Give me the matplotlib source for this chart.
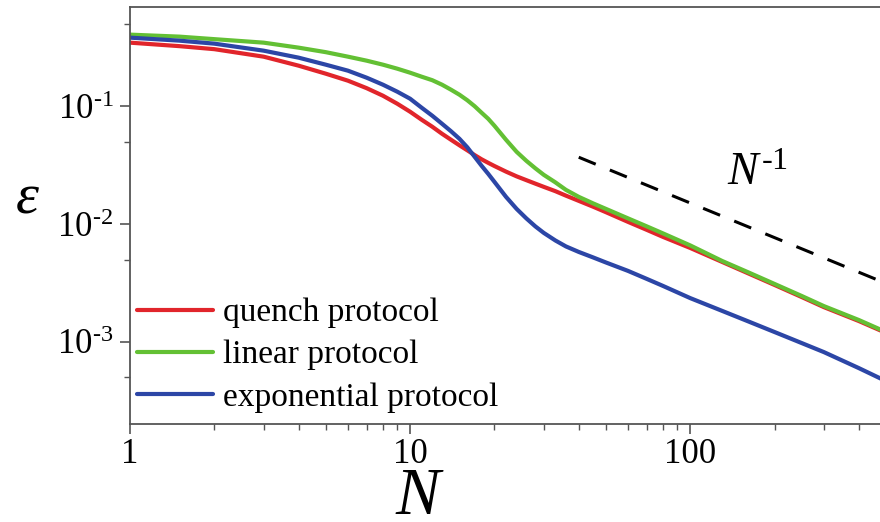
import matplotlib
matplotlib.use("Agg")
import matplotlib.pyplot as plt
from matplotlib.ticker import LogLocator, NullFormatter, FixedLocator

plt.rcParams['font.family'] = ['Liberation Serif', 'DejaVu Serif']
plt.rcParams['mathtext.fontset'] = 'custom'
plt.rcParams['mathtext.rm'] = 'Liberation Serif'
plt.rcParams['mathtext.it'] = 'Liberation Serif:italic'

# number of steps N
N = [1, 1.5, 2, 3, 4, 5, 6, 7, 8, 9, 10, 11, 12, 13, 14, 15, 16, 17, 18, 19,
     20, 22, 24, 26, 28, 30, 33, 36, 40, 45, 50, 60, 70, 80, 100, 130, 160,
     200, 250, 300, 400, 500]

# error epsilon for each protocol
quench = [0.3484, 0.3254, 0.3067, 0.2648, 0.2220, 0.1898, 0.1655, 0.1429,
          0.1233, 0.1054, 0.09015, 0.07702, 0.06721, 0.05856, 0.05208,
          0.04675, 0.04238, 0.03859, 0.03553, 0.03317, 0.03116, 0.02792,
          0.02546, 0.02363, 0.02207, 0.02073, 0.01905, 0.01745, 0.01576,
          0.01406, 0.01263, 0.01044, 0.00893, 0.00778, 0.00627, 0.00477,
          0.00384, 0.00304, 0.00240, 0.00197, 0.00150, 0.00119]
linear = [0.4076, 0.3920, 0.3731, 0.3484, 0.3159, 0.2892, 0.2648, 0.2448,
          0.2264, 0.2093, 0.1935, 0.1789, 0.1671, 0.1530, 0.1387, 0.1258,
          0.1129, 0.1004, 0.08837, 0.07855, 0.06853, 0.05208, 0.04115,
          0.03450, 0.02979, 0.02623, 0.02264, 0.01954, 0.01704, 0.01500,
          0.01347, 0.01118, 0.00956, 0.00833, 0.00659, 0.00486, 0.00392,
          0.00310, 0.00245, 0.00201, 0.00153, 0.00121]
exponential = [0.3843, 0.3624, 0.3417, 0.2978, 0.2597, 0.2264, 0.2013,
               0.1754, 0.1530, 0.1334, 0.1163, 0.09748, 0.08335, 0.07125,
               0.06151, 0.05311, 0.04495, 0.03731, 0.03129, 0.02675, 0.02286,
               0.01704, 0.01347, 0.01118, 0.00956, 0.00842, 0.00726, 0.00646,
               0.00580, 0.00521, 0.00472, 0.00400, 0.00342, 0.00298, 0.00235,
               0.00183, 0.00150, 0.00121, 0.000975, 0.000817, 0.000597,
               0.000463]

# N^-1 guide line
ref_N = [40, 460]
ref_eps = [0.037, 0.0034]

labels = ['quench protocol', 'linear protocol', 'exponential protocol']
colors = ['#e1252b', '#63c034', '#2c46a6']

fig = plt.figure(figsize=(8.8, 5.22), dpi=100)
ax = fig.add_axes([130 / 880, 1 - 424 / 522, 756 / 880, 417 / 522])

for y, lab, c in zip([quench, linear, exponential], labels, colors):
    ax.plot(N, y, color=c, lw=3.0, label=lab, solid_capstyle='round',
            solid_joinstyle='round')

ax.plot(ref_N, ref_eps, color='black', lw=2.2, dashes=(6, 5))

ax.set_xscale('log')
ax.set_yscale('log')
ax.set_xlim(1, 500)
ax.set_ylim(2e-4, 0.7)

ax.xaxis.set_major_locator(FixedLocator([1, 10, 100]))
ax.set_xticklabels(['1', '10', '100'])
ax.xaxis.set_minor_locator(LogLocator(base=10, subs=range(2, 10), numticks=20))
ax.xaxis.set_minor_formatter(NullFormatter())

ax.yaxis.set_major_locator(FixedLocator([1e-3, 1e-2, 1e-1]))
ax.set_yticklabels([r'$\mathregular{10^{\text{-}3}}$',
                    r'$\mathregular{10^{\text{-}2}}$',
                    r'$\mathregular{10^{\text{-}1}}$'])
ax.yaxis.set_minor_locator(LogLocator(base=10, subs=[5], numticks=20))
ax.yaxis.set_minor_formatter(NullFormatter())

spine_c = '#555555'
for s in ['left', 'bottom', 'top']:
    ax.spines[s].set_color(spine_c)
    ax.spines[s].set_linewidth(1.3)
ax.spines['right'].set_visible(False)

ax.tick_params(which='major', direction='out', length=7, width=1.2,
               color=spine_c, labelsize=25, top=False, right=False)
ax.tick_params(which='minor', direction='out', length=4, width=1.0,
               color=spine_c, top=False, right=False)
ax.tick_params(axis='y', which='major', pad=5)
ax.tick_params(axis='x', which='major', pad=3)

leg = ax.legend(loc='center left', bbox_to_anchor=(0.009, 0.165),
                frameon=False, fontsize=24, handlelength=2.3,
                handletextpad=0.3, labelspacing=0.35, borderpad=0,
                borderaxespad=0)
for h in leg.get_lines():
    h.set_linewidth(3.0)

fig.text(418 / 880, 1 - 497 / 522, 'N', fontsize=48, style='italic',
         ha='center', va='center')
fig.text(27 / 880, 1 - 200 / 522, 'ε', fontsize=42, style='italic',
         ha='center', va='center')
fig.text(757 / 880, 1 - 174 / 522, r'$N^{\text{-}1}$', fontsize=33,
         ha='center', va='center')

fig.savefig('out.png', dpi=100)
